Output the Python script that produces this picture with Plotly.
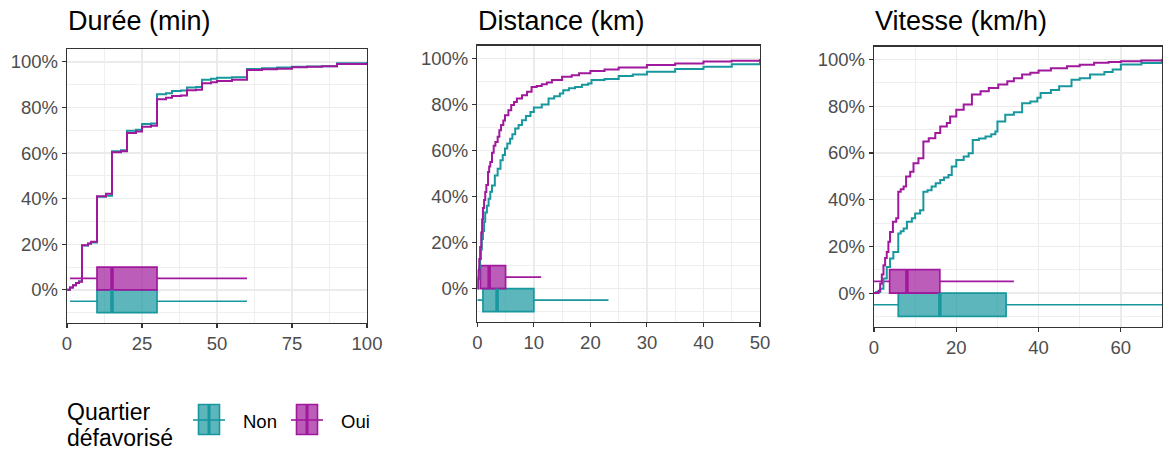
import plotly.graph_objects as go

W, H = 1169, 461
OFF = 0  # page body margin is removed by the post script below
FW, FH = W - OFF, H - OFF
FONT = "Arial, Liberation Sans, sans-serif"

# ---------------- data ----------------
# Durée (min) - ECDF
dur_x = [0, 1, 2, 3, 4, 5, 7, 8, 10, 13, 15, 18, 20, 23, 25, 28, 30, 33, 35, 38, 40, 43,
         45, 48, 50, 55, 60, 65, 70, 75, 80, 85, 90, 100, 180]
dur_non = [0.0, 0.01, 0.02, 0.03, 0.038, 0.195, 0.202, 0.208, 0.408, 0.413, 0.608, 0.612,
           0.698, 0.702, 0.727, 0.73, 0.858, 0.862, 0.872, 0.874, 0.888, 0.89, 0.921, 0.926,
           0.93, 0.932, 0.969, 0.972, 0.975, 0.979, 0.98, 0.981, 0.994, 0.995, 1.0]
dur_oui = [0.0, 0.01, 0.02, 0.03, 0.036, 0.196, 0.203, 0.211, 0.411, 0.422, 0.603, 0.608,
           0.688, 0.695, 0.715, 0.72, 0.836, 0.843, 0.85, 0.852, 0.875, 0.878, 0.906, 0.911,
           0.916, 0.922, 0.964, 0.967, 0.970, 0.976, 0.978, 0.981, 0.99, 0.992, 1.0]

# Distance (km) - ECDF
dist_non_x = [0, 0.2, 0.35, 0.5, 0.65, 0.8, 1.0, 1.2, 1.4, 1.7, 2.0, 2.3, 2.6, 3.1, 3.6,
              4.1, 4.5, 4.9, 5.3, 5.8, 6.2, 6.7, 7.3, 7.9, 8.6, 9.4, 10.0, 11.4, 12.6, 13.6,
              14.6, 15.2, 16.2, 17.3, 18.5, 19.6, 20.2, 22.5, 25.0, 27.5, 30.0, 35.0, 40.0,
              45.0, 50.0, 80.0]
dist_non_y = [0, 0.04, 0.09, 0.128, 0.17, 0.215, 0.25, 0.29, 0.33, 0.36, 0.39, 0.42, 0.448,
              0.491, 0.52, 0.557, 0.58, 0.608, 0.63, 0.651, 0.67, 0.695, 0.71, 0.731, 0.75,
              0.767, 0.787, 0.80, 0.826, 0.835, 0.847, 0.862, 0.87, 0.876, 0.885, 0.891,
              0.906, 0.91, 0.923, 0.93, 0.942, 0.954, 0.964, 0.974, 0.983, 1.0]
dist_oui_x = [0, 0.1, 0.2, 0.35, 0.5, 0.7, 0.85, 1.0, 1.2, 1.4, 1.6, 1.9, 2.1, 2.3, 2.6,
              2.9, 3.2, 3.6, 3.9, 4.2, 4.6, 4.9, 5.5, 6.0, 6.5, 7.0, 7.9, 8.8, 9.6, 10.5,
              11.4, 12.3, 13.2, 15.0, 16.7, 18.0, 20.0, 22.5, 25.0, 30.0, 35.0, 40.0, 45.0,
              50.0, 80.0]
dist_oui_y = [0, 0.04, 0.08, 0.128, 0.18, 0.244, 0.30, 0.35, 0.385, 0.419, 0.45, 0.506,
              0.53, 0.55, 0.59, 0.62, 0.637, 0.66, 0.688, 0.71, 0.73, 0.753, 0.775, 0.797,
              0.81, 0.826, 0.84, 0.855, 0.876, 0.88, 0.887, 0.895, 0.906, 0.92, 0.927, 0.935,
              0.945, 0.952, 0.96, 0.971, 0.978, 0.986, 0.99, 0.993, 1.0]

# Vitesse (km/h) - ECDF
vit_non_x = [0, 0.5, 1.5, 2.3, 3.1, 3.9, 4.7, 5.9, 6.5, 7.2, 8.0, 9.2, 10.0, 11.2, 12.0,
             13.0, 14.0, 15.0, 16.1, 17.0, 18.1, 18.9, 20.0, 21.8, 23.0, 24.0, 25.5, 27.1,
             28.5, 29.5, 30.0, 31.9, 34.0, 36.0, 38.0, 39.7, 40.5, 43.0, 45.0, 48.0, 50.0,
             52.5, 56.0, 58.0, 60.0, 65.0, 70.0, 90.0]
vit_non_y = [0, 0.005, 0.019, 0.062, 0.112, 0.148, 0.176, 0.255, 0.265, 0.277, 0.305, 0.32,
             0.341, 0.355, 0.434, 0.44, 0.456, 0.47, 0.484, 0.495, 0.506, 0.542, 0.57, 0.585,
             0.599, 0.656, 0.662, 0.67, 0.68, 0.692, 0.735, 0.764, 0.774, 0.813, 0.82, 0.836,
             0.857, 0.87, 0.886, 0.914, 0.92, 0.936, 0.947, 0.957, 0.979, 0.985, 0.99, 1.0]
vit_oui_x = [0, 1.1, 1.5, 1.9, 2.3, 2.7, 3.1, 3.5, 3.9, 4.6, 5.4, 5.9, 6.5, 7.2, 7.8, 8.8,
             9.6, 10.8, 12.0, 13.3, 14.9, 16.1, 17.7, 18.5, 20.0, 21.8, 23.8, 25.9, 27.9,
             30.2, 32.4, 34.0, 36.0, 38.0, 40.0, 43.0, 46.9, 50.0, 53.5, 57.0, 60.0, 65.0,
             70.0, 90.0]
vit_oui_y = [0, 0.01, 0.04, 0.08, 0.119, 0.15, 0.176, 0.22, 0.262, 0.305, 0.32, 0.434,
             0.445, 0.456, 0.499, 0.52, 0.556, 0.577, 0.649, 0.663, 0.685, 0.713, 0.728,
             0.756, 0.785, 0.807, 0.85, 0.864, 0.878, 0.893, 0.907, 0.92, 0.936, 0.943,
             0.953, 0.963, 0.971, 0.978, 0.986, 0.99, 0.993, 0.996, 0.998, 1.0]

# Boxplot stats: [lower whisker, q1, median, q3, upper whisker]
dur_box_non = [1, 10, 15, 30, 60]
dur_box_oui = [1, 10, 15, 30, 60]
dist_box_non = [0.0, 1.0, 3.5, 10.0, 23.2]
dist_box_oui = [0.0, 0.55, 2.1, 5.0, 11.3]
vit_box_non = [0.0, 5.9, 16.0, 32.1, 75.0]
vit_box_oui = [0.0, 3.8, 8.0, 16.0, 34.0]

groups = ["Non", "Oui"]
panel_titles = ["Durée (min)", "Distance (km)", "Vitesse (km/h)"]
x_ranges = [[0, 100], [0, 50], [0, 70]]
x_dticks = [25, 10, 20]
legend_title_lines = ["Quartier", "défavorisé"]

# ---------------- style ----------------
LINE = {"Non": "#18979E", "Oui": "#A0189C"}
FILL = {"Non": "rgba(24,151,158,0.70)", "Oui": "rgba(160,24,156,0.70)"}
BOX_POS = {"Non": -0.05, "Oui": 0.05}
BOX_W = 0.1
Y_RANGE = [-0.144, 1.055]


def px_x(p):
    return (p - OFF) / FW


def px_y(p):
    return 1 - (p - OFF) / FH


# panel pixel boxes in the screenshot (left, right, top, bottom)
panels_px = [(67, 367, 49.3, 322.7), (477.3, 760, 45.7, 321.7), (874, 1162, 46.7, 326.7)]

ecdf = [
    {"Non": (dur_x, dur_non), "Oui": (dur_x, dur_oui)},
    {"Non": (dist_non_x, dist_non_y), "Oui": (dist_oui_x, dist_oui_y)},
    {"Non": (vit_non_x, vit_non_y), "Oui": (vit_oui_x, vit_oui_y)},
]
boxes = [
    {"Non": dur_box_non, "Oui": dur_box_oui},
    {"Non": dist_box_non, "Oui": dist_box_oui},
    {"Non": vit_box_non, "Oui": vit_box_oui},
]

fig = go.Figure()

for i in range(3):
    xa = "x" if i == 0 else f"x{i+1}"
    ya = "y" if i == 0 else f"y{i+1}"
    for g in groups:
        xs, ys = ecdf[i][g]
        fig.add_trace(go.Scatter(x=xs, y=ys, mode="lines", line=dict(color=LINE[g], width=2, shape="hv"),
                                 xaxis=xa, yaxis=ya, showlegend=False, hoverinfo="skip"))
    for g in groups:
        lo, q1, med, q3, hi = boxes[i][g]
        pos = BOX_POS[g]
        fig.add_trace(go.Box(y=[pos], q1=[q1], median=[med], q3=[q3], lowerfence=[lo], upperfence=[hi],
                             orientation="h", width=BOX_W, fillcolor=FILL[g],
                             line=dict(color=LINE[g], width=1.7), whiskerwidth=0, boxpoints=False,
                             xaxis=xa, yaxis=ya, showlegend=False, hoverinfo="skip"))
        fig.add_trace(go.Scatter(x=[med, med], y=[pos - BOX_W / 2, pos + BOX_W / 2], mode="lines",
                                 line=dict(color=LINE[g], width=3.5), xaxis=xa, yaxis=ya,
                                 showlegend=False, hoverinfo="skip"))

common = dict(showline=True, mirror=True, linecolor="#333333", linewidth=1.3,
              ticks="outside", ticklen=4, tickwidth=1.1, tickcolor="#333333",
              showgrid=True, gridcolor="#EBEBEB", gridwidth=1.5, zeroline=False, automargin=False,
              tickfont=dict(size=18.5, color="#4D4D4D", family=FONT), fixedrange=True)

layout = dict(width=FW, height=FH, margin=dict(l=0, r=0, t=0, b=0, autoexpand=False),
              paper_bgcolor="white", plot_bgcolor="white", boxmode="overlay",
              font=dict(family=FONT), showlegend=False)

annotations = []
for i, (l, r, t, b) in enumerate(panels_px):
    sx = "" if i == 0 else str(i + 1)
    layout[f"xaxis{sx}"] = dict(common, domain=[px_x(l), px_x(r)], range=x_ranges[i], anchor=f"y{sx}",
                                tick0=0, dtick=x_dticks[i],
                                minor=dict(showgrid=True, gridcolor="#EBEBEB", gridwidth=0.8,
                                           tick0=0, dtick=x_dticks[i] / 2))
    layout[f"yaxis{sx}"] = dict(common, domain=[px_y(b), px_y(t)], range=Y_RANGE, anchor=f"x{sx}",
                                tick0=0, dtick=0.2, tickformat=".0%",
                                minor=dict(showgrid=True, gridcolor="#EBEBEB", gridwidth=0.8,
                                           tick0=0, dtick=0.1))
    annotations.append(dict(text=panel_titles[i], x=px_x(l - 1), y=px_y(21), xref="paper", yref="paper",
                            xanchor="left", yanchor="middle", showarrow=False,
                            font=dict(size=27, color="black", family=FONT)))

# legend (manual)
shapes = []
legend_keys = [("Non", 193, 225, 241), ("Oui", 291, 323, 339)]
ky0, ky1, kyc = 404.5, 434.5, 420
for g, kx0, kx1, tx in legend_keys:
    shapes.append(dict(type="line", xref="paper", yref="paper", x0=px_x(kx0), x1=px_x(kx1),
                       y0=px_y(kyc), y1=px_y(kyc), line=dict(color=LINE[g], width=1.6)))
    shapes.append(dict(type="rect", xref="paper", yref="paper", x0=px_x(kx0 + 5.5), x1=px_x(kx1 - 5.5),
                       y0=px_y(ky1), y1=px_y(ky0), fillcolor=FILL[g], line=dict(color=LINE[g], width=1.6)))
    mx = (kx0 + kx1) / 2
    shapes.append(dict(type="line", xref="paper", yref="paper", x0=px_x(mx), x1=px_x(mx),
                       y0=px_y(ky1), y1=px_y(ky0), line=dict(color=LINE[g], width=3)))
    annotations.append(dict(text=g, x=px_x(tx), y=px_y(421), xref="paper", yref="paper",
                            xanchor="left", yanchor="middle", showarrow=False,
                            font=dict(size=18.5, color="black", family=FONT)))
for j, line_txt in enumerate(legend_title_lines):
    annotations.append(dict(text=line_txt, x=px_x(65), y=px_y(412 + 26 * j), xref="paper", yref="paper",
                            xanchor="left", yanchor="middle", align="left", showarrow=False,
                            font=dict(size=23, color="black", family=FONT)))

layout["annotations"] = annotations
layout["shapes"] = shapes
fig.update_layout(**layout)

fig.write_html("out.html", config={"displayModeBar": False, "staticPlot": True},
               post_script="document.body.style.margin='0';document.body.style.padding='0';"
                           "document.body.style.overflow='hidden';")
